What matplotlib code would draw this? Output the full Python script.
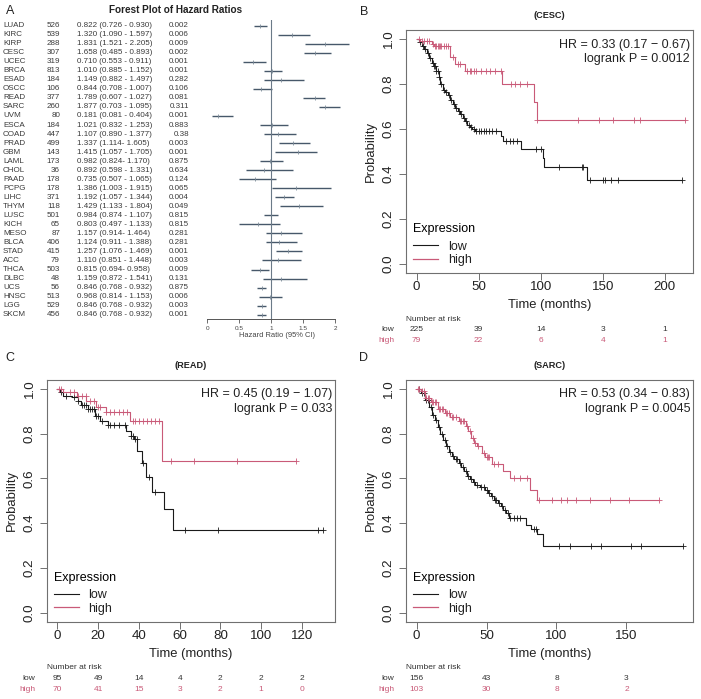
import numpy as np
import matplotlib
matplotlib.use('Agg')
import matplotlib.pyplot as plt
from matplotlib.lines import Line2D
from matplotlib.transforms import blended_transform_factory as blend

plt.rcParams['font.family'] = ['Liberation Sans', 'DejaVu Sans']

# ---- panel A: forest plot table
names = ['LUAD', 'KIRC', 'KIRP', 'CESC', 'UCEC', 'BRCA', 'ESAD', 'OSCC', 'READ', 'SARC', 'UVM',
         'ESCA', 'COAD', 'PRAD', 'GBM', 'LAML', 'CHOL', 'PAAD', 'PCPG', 'LIHC', 'THYM', 'LUSC',
         'KICH', 'MESO', 'BLCA', 'STAD', 'ACC', 'THCA', 'DLBC', 'UCS', 'HNSC', 'LGG', 'SKCM']
n_pat = ['526', '539', '288', '307', '319', '813', '184', '106', '377', '260', '80',
         '184', '447', '499', '143', '173', '36', '178', '178', '371', '118', '501',
         '65', '87', '406', '415', '79', '503', '48', '56', '513', '529', '456']
hr_txt = ['0.822 (0.726 - 0.930)', '1.320 (1.090 - 1.597)', '1.831 (1.521 - 2.205)',
          '1.658 (0.485 - 0.893)', '0.710 (0.553 - 0.911)', '1.010 (0.885 - 1.152)',
          '1.149 (0.882 - 1.497)', '0.844 (0.708 - 1.007)', '1.789 (0.607 - 1.027)',
          '1.877 (0.703 - 1.095)', '0.181 (0.081 - 0.404)', '1.021 (0.832 - 1.253)',
          '1.107 (0.890 - 1.377)', '1.337 (1.114- 1.605)', '1.415 (1.057 - 1.705)',
          '0.982 (0.824- 1.170)', '0.892 (0.598 - 1.331)', '0.735 (0.507 - 1.065)',
          '1.386 (1.003 - 1.915)', '1.192 (1.057 - 1.344)', '1.429 (1.133 - 1.804)',
          '0.984 (0.874 - 1.107)', '0.803 (0.497 - 1.133)', '1.157 (0.914- 1.464)',
          '1.124 (0.911 - 1.388)', '1.257 (1.076 - 1.469)', '1.110 (0.851 - 1.448)',
          '0.815 (0.694- 0.958)', '1.159 (0.872 - 1.541)', '0.846 (0.768 - 0.932)',
          '0.968 (0.814 - 1.153)', '0.846 (0.768 - 0.932)', '0.846 (0.768 - 0.932)']
p_txt = ['0.002', '0.006', '0.009', '0.002', '0.001', '0.001', '0.282', '0.106', '0.081', '0.311',
         '0.001', '0.883', '0.38', '0.003', '0.001', '0.875', '0.634', '0.124', '0.065', '0.004',
         '0.049', '0.815', '0.815', '0.281', '0.281', '0.001', '0.003', '0.009', '0.131', '0.875',
         '0.006', '0.003', '0.001']
# bars as drawn in the figure
fp_hr = [0.82, 1.33, 1.84, 1.69, 0.72, 1.01, 1.15, 0.84, 1.68, 1.84, 0.17, 1.01, 1.10, 1.34, 1.42,
         0.98, 0.89, 0.74, 1.38, 1.20, 1.43, 0.99, 0.79, 1.15, 1.12, 1.26, 1.10, 0.82, 1.15, 0.85,
         0.98, 0.85, 0.85]
fp_lo = [0.73, 1.10, 1.53, 1.51, 0.55, 0.89, 0.88, 0.71, 1.49, 1.74, 0.07, 0.83, 0.89, 1.12, 1.06,
         0.82, 0.60, 0.50, 1.01, 1.06, 1.14, 0.88, 0.50, 0.92, 0.91, 1.08, 0.85, 0.69, 0.87, 0.77,
         0.81, 0.77, 0.77]
fp_hi = [0.93, 1.61, 2.22, 1.93, 0.91, 1.16, 1.51, 1.01, 1.84, 2.08, 0.40, 1.26, 1.39, 1.61, 1.72,
         1.18, 1.34, 1.08, 1.93, 1.35, 1.81, 1.11, 1.14, 1.48, 1.40, 1.48, 1.46, 0.96, 1.56, 0.92,
         1.16, 0.92, 0.92]

# ---- KM panels: step times / survival, end of follow-up, censor times
cesc_low_t = [0, 2, 4, 6, 8, 10, 12, 14, 16, 18, 19, 21, 23, 25, 27, 29, 31, 33, 35, 37, 39, 41,
              43, 45, 47, 68, 70, 84, 102, 103, 137]
cesc_low_s = [1.0, 0.985, 0.97, 0.955, 0.94, 0.915, 0.895, 0.88, 0.86, 0.83, 0.80, 0.775, 0.765,
              0.75, 0.73, 0.71, 0.695, 0.68, 0.665, 0.65, 0.635, 0.62, 0.61, 0.60, 0.59, 0.57,
              0.545, 0.51, 0.47, 0.43, 0.375]
cesc_low_end = 214
cesc_low_cens = [3, 5, 7, 9, 11, 13, 14, 15, 16, 17, 18, 20, 22, 24, 26, 28, 30, 32, 34, 36, 38,
                 40, 42, 44, 46, 48, 50, 52, 54, 56, 58, 61, 64, 72, 75, 78, 81, 96, 100, 115,
                 133, 134, 140, 150, 152, 157, 162, 214]
cesc_high_t = [0, 3, 12, 14, 27, 31, 39, 69, 95, 96.7]
cesc_high_s = [1.0, 0.99, 0.98, 0.97, 0.92, 0.89, 0.86, 0.80, 0.72, 0.64]
cesc_high_end = 216
cesc_high_cens = [2, 4, 6, 8, 10, 13, 15, 16, 17, 18, 19, 20, 22, 24, 25, 29, 33, 35, 41, 43, 44,
                  46, 48, 52, 56, 59, 63, 68, 76, 79, 83, 89, 97, 130, 147, 158, 175, 180, 216]

read_low_t = [0, 1.3, 2.9, 7, 10, 11.8, 15, 18.3, 20.7, 24.7, 33.6, 36, 37.6, 39.3, 41.4, 43.3,
              46.5, 52.2, 56.7]
read_low_s = [1.0, 0.988, 0.97, 0.963, 0.948, 0.93, 0.91, 0.88, 0.859, 0.837, 0.814, 0.79, 0.777,
              0.722, 0.668, 0.606, 0.539, 0.462, 0.371]
read_low_end = 130.5
read_low_cens = [2, 4, 8, 10, 12, 13, 14, 15, 16, 17, 18, 19, 20, 22, 25, 26, 28, 30, 33, 36, 37,
                 38, 39, 42, 45, 48, 62.5, 79, 128, 130.5]
read_high_t = [0, 2.9, 9.4, 14.2, 19, 24, 35.5, 51.4]
read_high_s = [1.0, 0.985, 0.97, 0.948, 0.92, 0.896, 0.856, 0.68]
read_high_end = 117.3
read_high_cens = [1, 2, 6, 8, 10, 12, 14, 16, 18, 20, 21, 24, 26, 28, 30, 32, 34, 37, 38, 40, 42,
                  44, 46, 48, 50, 56, 67, 88, 117.3]

sarc_low_t = [0, 3, 6, 9, 11, 13, 15, 17, 19, 21, 23, 25, 27, 30, 32, 34, 36, 38, 40, 42, 45, 49,
              51, 53, 55, 58, 60, 62, 64, 66, 78, 82, 86, 90]
sarc_low_s = [1.0, 0.98, 0.95, 0.92, 0.885, 0.86, 0.83, 0.80, 0.77, 0.745, 0.72, 0.70, 0.685,
              0.67, 0.65, 0.635, 0.61, 0.598, 0.585, 0.572, 0.56, 0.55, 0.535, 0.52, 0.505, 0.49,
              0.475, 0.46, 0.445, 0.424, 0.394, 0.372, 0.35, 0.30]
sarc_low_end = 190.5
sarc_low_cens = [2, 4, 5, 7, 8, 10, 12, 14, 16, 18, 20, 22, 24, 26, 28, 29, 31, 33, 35, 37, 39,
                 41, 43, 46, 48, 50, 52, 54, 56, 57, 59, 61, 63, 65, 67, 69.5, 72, 74, 83.8, 85,
                 102, 110, 124.8, 131.9, 153.6, 160.7, 190.5]
sarc_high_t = [0, 3, 6, 10, 15, 20, 24, 30, 35, 37, 39, 41, 43, 47, 49, 54, 62, 67, 81, 86]
sarc_high_s = [1.0, 0.99, 0.96, 0.94, 0.91, 0.893, 0.873, 0.855, 0.835, 0.81, 0.78, 0.76, 0.744,
               0.714, 0.695, 0.665, 0.635, 0.60, 0.55, 0.506]
sarc_high_end = 173
sarc_high_cens = [1, 2, 4, 5, 7, 8, 9, 11, 12, 13, 14, 16, 17, 18, 19, 21, 22, 23, 25, 26, 28, 31,
                  32, 33, 34, 36, 38, 40, 42, 44, 48, 50, 51, 52, 55, 58, 69.5, 74, 79, 87.4, 97,
                  103, 107.6, 113.6, 124, 138.6, 151.7, 173]

cesc_risk_t = [0, 50, 100, 150, 200]
cesc_risk_low = [225, 39, 14, 3, 1]
cesc_risk_high = [79, 22, 6, 4, 1]
read_risk_t = [0, 20, 40, 60, 80, 100, 120]
read_risk_low = [95, 49, 14, 4, 2, 2, 2]
read_risk_high = [70, 41, 15, 3, 2, 1, 0]
sarc_risk_t = [0, 50, 100, 150]
sarc_risk_low = [156, 43, 8, 3]
sarc_risk_high = [103, 30, 8, 2]

BLACK = '#1a1a1a'
RED = '#c95a78'
W, H = 701, 699
fig = plt.figure(figsize=(W / 100, H / 100), dpi=100)


def fx(px): return px / W
def fy(py): return 1 - py / H


# ---------- panel A
axf = fig.add_axes([fx(200.9), fy(319), fx(352.6) - fx(200.9), (319 - 20) / H])
rows = np.arange(len(names))
axf.set_xlim(-0.1, 2.27)
axf.set_ylim(len(names) - 0.52, -0.63)
axf.hlines(rows, fp_lo, fp_hi, color='#47586a', lw=1.0)
axf.plot(fp_hr, rows, '|', color='#7d8c99', ms=2.5, mew=0.6)
axf.axvline(1, color='#6b7a88', lw=0.8)
for s in ['top', 'right', 'left']:
    axf.spines[s].set_visible(False)
axf.spines['bottom'].set_bounds(0, 2)
axf.spines['bottom'].set_color('#555555')
axf.spines['bottom'].set_linewidth(0.7)
axf.set_yticks([])
axf.set_xticks([0, 0.5, 1, 1.5, 2])
axf.set_xticklabels(['0', '0.5', '1', '1.5', '2'])
axf.tick_params(axis='x', length=3, width=0.6, color='#555555', labelsize=4.6, pad=2,
                labelcolor='#444444')
axf.set_xlabel('Hazard Ratio (95% CI)', fontsize=5.4, color='#444444', labelpad=1)

tr = blend(fig.transFigure, axf.transData)
tkw = dict(fontsize=5.8, color='#3a3a3a', va='center', transform=tr)
for i in rows:
    axf.text(fx(3), i, names[i], ha='left', **tkw)
    axf.text(fx(60), i, n_pat[i], ha='right', **tkw)
    axf.text(fx(77), i, hr_txt[i], ha='left', **tkw)
    axf.text(fx(189), i, p_txt[i], ha='right', **tkw)

fig.text(fx(176), fy(10), 'Forest Plot of Hazard Ratios', fontsize=7.2, fontweight='bold',
         ha='center', va='center', color='#222222')

# ---------- KM panels


def km_curve(ax, t, s, end, cens, color):
    tt = list(t) + [end]
    ss = list(s) + [s[-1]]
    ax.step(tt, ss, where='post', color=color, lw=0.8)
    idx = np.searchsorted(np.array(t), np.array(cens), side='right') - 1
    ax.plot(cens, np.array(s)[idx], '+', color=color, ms=4.5, mew=0.6)


def km_panel(box, title, xmax, xticks, curves, hr, logp, risk_t, risk_low, risk_high, row_y):
    l, r, top, bot = box
    ax = fig.add_axes([fx(l), fy(bot), (r - l) / W, (bot - top) / H])
    for c in curves:
        km_curve(ax, *c)
    ax.set_xlim(-0.04 * xmax, 1.04 * xmax)
    ax.set_ylim(-0.04, 1.04)
    ax.set_xticks(xticks)
    ax.set_yticks([0, 0.2, 0.4, 0.6, 0.8, 1.0])
    ax.set_yticklabels(['0.0', '0.2', '0.4', '0.6', '0.8', '1.0'], rotation=90, va='center')
    for s in ax.spines.values():
        s.set_color('#707070')
        s.set_linewidth(0.8)
    ax.tick_params(length=5, width=0.7, color='#707070', labelsize=9.6, labelcolor='#222222')
    ax.tick_params(axis='x', pad=1)
    ax.tick_params(axis='y', pad=3)
    ax.set_xlabel('Time (months)', fontsize=9.4, color='#222222', labelpad=4)
    ax.set_ylabel('Probability', fontsize=9.4, color='#222222', labelpad=4)
    ax.set_title(title, fontsize=6.6, fontweight='bold', color='#222222', pad=9)
    ax.text(0.99, 0.965, f'HR = {hr}\nlogrank P = {logp}', transform=ax.transAxes,
            ha='right', va='top', fontsize=9.0, color='#222222', multialignment='right',
            linespacing=1.25)
    handles = [Line2D([], [], color=BLACK, lw=0.8), Line2D([], [], color=RED, lw=0.9)]
    leg = ax.legend(handles, ['low', 'high'], title='Expression', loc='lower left',
                    bbox_to_anchor=(0.0, 0.0), frameon=False, fontsize=9.0, title_fontsize=9.0,
                    alignment='left', handlelength=2.0, handletextpad=0.8, labelspacing=0.12,
                    borderpad=0.35, borderaxespad=0.2)
    # a bit more room between the title and the entries, as in the R legend
    leg._legend_box.sep = 4.0
    for txt in leg.get_texts():
        txt.set_color('#222222')
    tr_d = blend(ax.transData, fig.transFigure)
    tr_a = blend(ax.transAxes, fig.transFigure)
    y0, y1, y2 = row_y
    ax.text(0.0, fy(y0), 'Number at risk', transform=tr_a, fontsize=6.0, color='#333333',
            ha='left', va='center')
    ax.text(-0.04, fy(y1), 'low', transform=tr_a, fontsize=6.0, color='#333333',
            ha='right', va='center')
    ax.text(-0.04, fy(y2), 'high', transform=tr_a, fontsize=6.0, color=RED,
            ha='right', va='center')
    for t, a, b in zip(risk_t, risk_low, risk_high):
        ax.text(t, fy(y1), str(a), transform=tr_d, fontsize=6.0, color='#333333',
                ha='center', va='center')
        ax.text(t, fy(y2), str(b), transform=tr_d, fontsize=6.0, color=RED,
                ha='center', va='center')
    return ax


km_panel((406, 692.7, 30, 273), '(CESC)', 214, [0, 50, 100, 150, 200],
         [(cesc_low_t, cesc_low_s, cesc_low_end, cesc_low_cens, BLACK),
          (cesc_high_t, cesc_high_s, cesc_high_end, cesc_high_cens, RED)],
         '0.33 (0.17 \u2212 0.67)', '0.0012',
         cesc_risk_t, cesc_risk_low, cesc_risk_high, (319, 329.6, 340.6))

km_panel((46.7, 335, 380, 621.7), '(READ)', 131, [0, 20, 40, 60, 80, 100, 120],
         [(read_low_t, read_low_s, read_low_end, read_low_cens, BLACK),
          (read_high_t, read_high_s, read_high_end, read_high_cens, RED)],
         '0.45 (0.19 \u2212 1.07)', '0.033',
         read_risk_t, read_risk_low, read_risk_high, (667.7, 678.3, 689.3))

km_panel((406, 693, 380, 621.7), '(SARC)', 190, [0, 50, 100, 150],
         [(sarc_low_t, sarc_low_s, sarc_low_end, sarc_low_cens, BLACK),
          (sarc_high_t, sarc_high_s, sarc_high_end, sarc_high_cens, RED)],
         '0.53 (0.34 \u2212 0.83)', '0.0045',
         sarc_risk_t, sarc_risk_low, sarc_risk_high, (667.7, 678.3, 689.3))

# panel letters
for lab, x, y in [('A', 10, 11), ('B', 364, 12), ('C', 10, 358), ('D', 364, 358)]:
    fig.text(fx(x), fy(y), lab, fontsize=9, ha='center', va='center', color='#222222')

fig.savefig('out.png', dpi=100)
